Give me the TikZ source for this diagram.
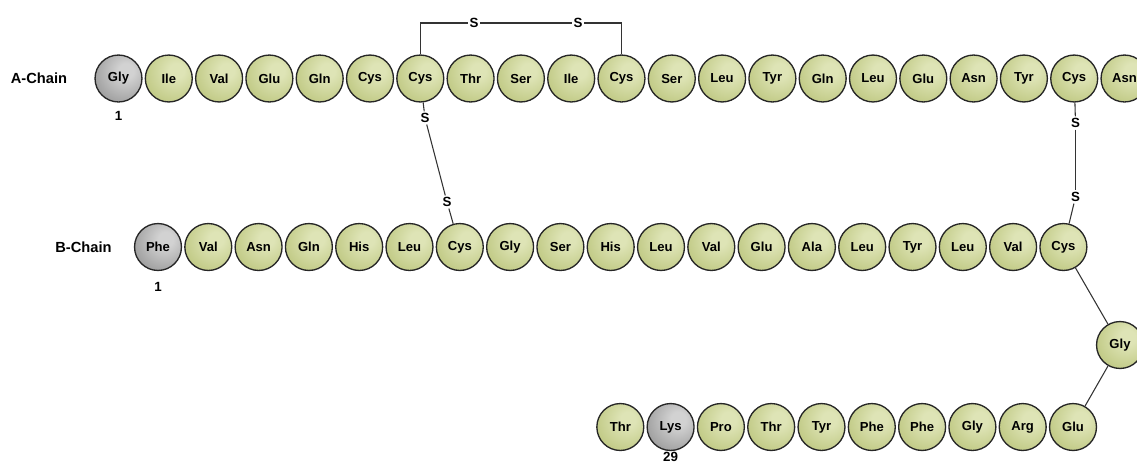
\documentclass[tikz,border=0pt]{standalone}
\usepackage{fontspec}
\setmainfont{Liberation Sans}
\usetikzlibrary{shadings}

% residue fills
\definecolor{grnL}{HTML}{DEE4B6}
\definecolor{grnM}{HTML}{C0C984}
\definecolor{grnD}{HTML}{9AA560}
\definecolor{gryL}{HTML}{D2D2D2}
\definecolor{gryM}{HTML}{9E9E9E}
\definecolor{gryD}{HTML}{6F6F6F}
\definecolor{rim}{HTML}{262626}
\definecolor{bond}{HTML}{333333}

\pgfdeclareradialshading{greenres}{\pgfpoint{9bp}{9bp}}{%
  color(0bp)=(grnL); color(8bp)=(grnL); color(34bp)=(grnM); color(58bp)=(grnD); color(100bp)=(grnD)}
\pgfdeclareradialshading{greyres}{\pgfpoint{9bp}{9bp}}{%
  color(0bp)=(gryL); color(8bp)=(gryL); color(34bp)=(gryM); color(58bp)=(gryD); color(100bp)=(gryD)}

\tikzset{
  res/.style={circle, inner sep=0pt, minimum size=35.2pt, draw=rim, line width=1pt,
    shading=greenres, font=\fontsize{9.8}{11}\selectfont\bfseries},
  gres/.style={res, shading=greyres},
  sulfur/.style={inner sep=1.2pt, font=\fontsize{10}{12}\selectfont\bfseries},
  chainlabel/.style={font=\fontsize{11}{13}\selectfont\bfseries},
  numlabel/.style={font=\fontsize{10}{12}\selectfont\bfseries},
  link/.style={draw=bond, line width=0.8pt},
}

\begin{document}
\begin{tikzpicture}[x=0.75pt,y=-0.75pt]
\useasboundingbox (0,0) rectangle (1137,462);

% A chain
\node[chainlabel] (alab) at (39,78.5) {A-Chain};
\node[gres] (a1) at (118.5,78.5) {Gly};
\foreach \n [count=\i from 2] in {Ile,Val,Glu,Gln,Cys,Cys,Thr,Ser,Ile,Cys,Ser,Leu,Tyr,Gln,Leu,Glu,Asn,Tyr,Cys,Asn}
  \node[res] (a\i) at ({118.5+50.3*(\i-1)},78.5) {\n};
\node[numlabel] (anum) at (118.5,116) {1};

% B chain, straight part
\node[chainlabel] (blab) at (83.5,247) {B-Chain};
\node[gres] (b1) at (158,247) {Phe};
\foreach \n [count=\i from 2] in {Val,Asn,Gln,His,Leu,Cys,Gly,Ser,His,Leu,Val,Glu,Ala,Leu,Tyr,Leu,Val,Cys}
  \node[res] (b\i) at ({158+50.3*(\i-1)},247) {\n};
\node[numlabel] (bnum) at (158,287) {1};

% B chain, turn and return row (residues 20 to 30)
\node[res] (b20) at (1120,345) {Gly};
\foreach \n [count=\i from 21] in {Glu,Arg,Gly,Phe,Phe,Tyr,Thr,Pro}
  \node[res] (b\i) at ({1073-50.3*(\i-21)},427) {\n};
\node[gres] (b29) at ({1073-50.3*8},427) {Lys};
\node[res] (b30) at ({1073-50.3*9},427) {Thr};
\node[numlabel] (cnum) at ({1073-50.3*8},456.5) {29};

\draw[link] (b19) -- (b20);
\draw[link] (b20) -- (b21);

% intra-chain disulfide (A6-A11)
\node[sulfur] (st1) at (474,23) {S};
\node[sulfur] (st2) at (578,23) {S};
\draw[link] (a7.north) |- (st1);
\draw[link] (st1) -- (st2);
\draw[link] (st2) -| (a11.north);

% inter-chain disulfide (A7-B7)
\node[sulfur] (sl1) at (425,118) {S};
\node[sulfur] (sl2) at (447,202) {S};
\draw[link] (a7) -- (sl1);
\draw[link] (sl1) -- (sl2);
\draw[link] (sl2) -- (b7);

% inter-chain disulfide (A20-B19)
\node[sulfur] (sr1) at (1075.5,123) {S};
\node[sulfur] (sr2) at (1075.5,197) {S};
\draw[link] (a20) -- (sr1);
\draw[link] (sr1) -- (sr2);
\draw[link] (sr2) -- (b19);
\end{tikzpicture}
\end{document}
